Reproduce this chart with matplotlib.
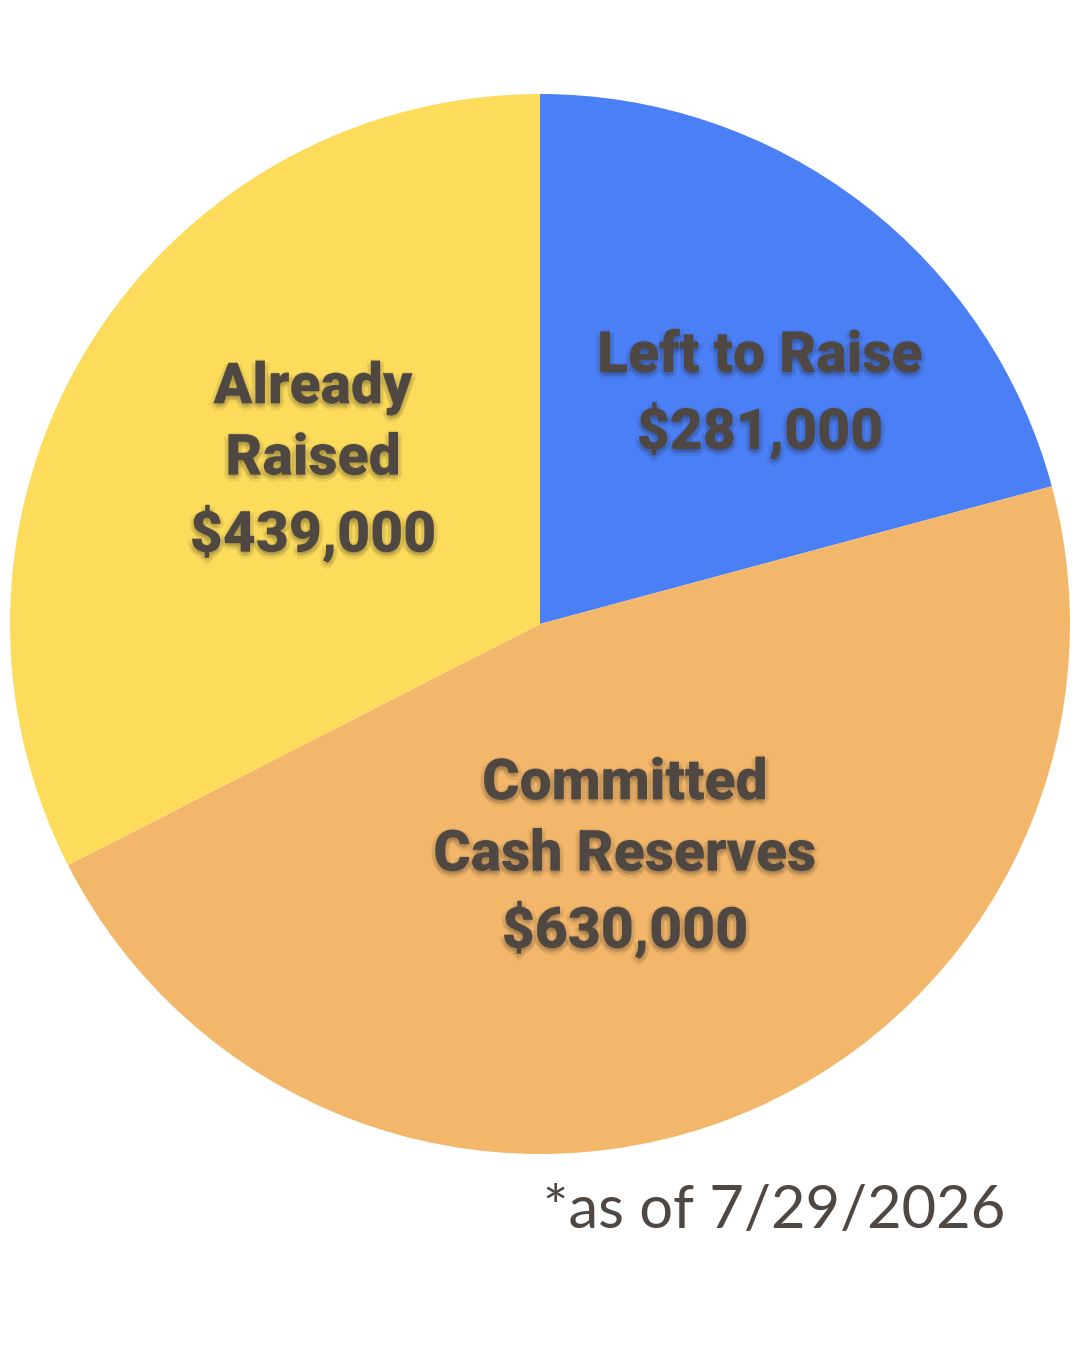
import matplotlib
matplotlib.use("Agg")
import matplotlib.pyplot as plt
import matplotlib.patheffects as pe

labels = ["Left to Raise", "Committed\nCash Reserves", "Already\nRaised"]
values = [281000, 630000, 439000]
colors = ["#4a7ff5", "#f2b76b", "#fddc5c"]
footnote = "*as of 7/29/2026"

W, H = 1080, 1350
fig = plt.figure(figsize=(W / 100, H / 100), dpi=100)
ax = fig.add_axes([0, 0, 1, 1])

cx, cy, r = 540, H - 624, 530
ax.pie(values, colors=colors, startangle=90, counterclock=False,
       center=(cx, cy), radius=r, frame=True,
       wedgeprops=dict(linewidth=0))
ax.set_xlim(0, W)
ax.set_ylim(0, H)
ax.set_aspect("equal")
ax.axis("off")

text_color = "#4f4742"
sh = (0.12, 0.1, 0.08)
effects = []
for dx, dy in [(0, -2), (2, -3), (-2, -3), (0, -5), (3, -1), (-3, -1), (0, 1)]:
    effects.append(pe.SimplePatchShadow(offset=(dx, dy), shadow_rgbFace=sh, alpha=0.07))
effects.append(pe.Normal())

label_pos = [(760, 395), (625, 858), (313, 462)]
for lab, val, (x, y) in zip(labels, values, label_pos):
    txt = lab + "\n" + "${:,}".format(val)
    ax.text(x, H - y, txt, ha="center", va="center", fontsize=41,
            family="Roboto", fontweight="black",
            color=text_color, linespacing=1.38, path_effects=effects)

ax.text(1005, H - 1228, footnote, ha="right", va="baseline", fontsize=43,
        family="Lato", fontweight="normal", color=text_color)

fig.savefig("out.png", dpi=100)
